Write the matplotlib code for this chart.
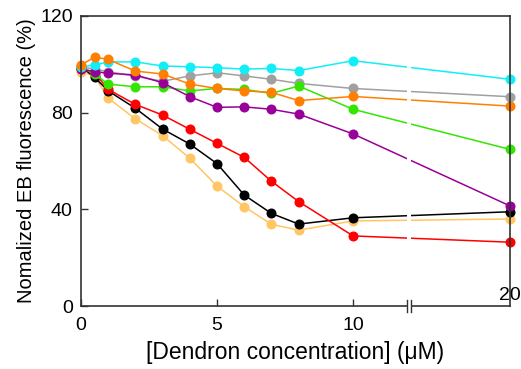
import numpy as np
import matplotlib
matplotlib.use("Agg")
import matplotlib.pyplot as plt
from matplotlib.patches import Rectangle

plt.rcParams['font.family'] = ['Liberation Sans', 'DejaVu Sans']

conc = [0, 0.5, 1, 2, 3, 4, 5, 6, 7, 8, 10, 20]

series = {
    "lightorange": [97, 95, 86, 77.4, 70.5, 61.1, 49.6, 41.1, 33.8, 31.4, 35.2, 36.0],
    "black":       [99, 94.6, 89, 81.8, 73.2, 67, 58.9, 45.9, 38.3, 33.9, 36.5, 39.0],
    "red":         [98, 96.5, 89.6, 83.4, 79, 73.1, 67.3, 61.5, 51.6, 43.2, 29.0, 26.4],
    "gray":        [99, 98, 97, 95, 93, 95.2, 96.5, 95.2, 93.8, 92.1, 90.0, 86.6],
    "green":       [99, 96, 91.8, 90.7, 90.7, 89, 90, 89.6, 88, 91, 81.4, 64.8],
    "purple":      [98, 97, 96.3, 95.6, 92.4, 86.6, 82.2, 82.4, 81.4, 79.4, 71.2, 41.4],
    "cyan":        [99, 99.7, 101, 101, 99.3, 99, 98.6, 98, 98.3, 97.4, 101.5, 93.8],
    "orange":      [99.7, 103, 102, 97.2, 96, 91.8, 90, 89, 88.4, 85, 86.7, 82.7],
}
colors = {
    "lightorange": "#FFC663",
    "black": "#000000",
    "red": "#FF0000",
    "gray": "#A0A0A0",
    "green": "#33E600",
    "purple": "#990099",
    "cyan": "#11EEF8",
    "orange": "#FF8000",
}

x_ticks = [0, 5, 10]
y_ticks = [0, 40, 80, 120]

# broken x axis: linear up to the break, compressed beyond
BREAK = 12.2
SQUEEZE = 0.4577


def fwd(x):
    x = np.asarray(x, dtype=float)
    return np.where(x <= BREAK, x, BREAK + (x - BREAK) * SQUEEZE)


def inv(u):
    u = np.asarray(u, dtype=float)
    return np.where(u <= BREAK, u, BREAK + (u - BREAK) / SQUEEZE)


fig = plt.figure(figsize=(5.21, 3.69), dpi=100)
ax = fig.add_axes([0.1555, 0.1707, 0.8235, 0.786])
ax.set_xscale('function', functions=(fwd, inv))

for name, vals in series.items():
    ax.plot(conc, vals, color=colors[name], lw=1.1, marker='o', ms=6.2,
            mec=colors[name], clip_on=False, zorder=3)

ax.set_xlim(0, 20)
ax.set_ylim(0, 120)
ax.set_xticks(x_ticks)
ax.set_xticklabels([str(t) for t in x_ticks])
ax.set_yticks(y_ticks)
ax.set_yticklabels([str(t) for t in y_ticks])
ax.tick_params(direction='in', length=5, width=1.0, labelsize=14,
               color='#333333')
ax.tick_params(axis='y', pad=6)
ax.tick_params(axis='x', pad=8)
ax.xaxis.set_minor_locator(plt.NullLocator())

for sp in ax.spines.values():
    sp.set_color('#333333')
    sp.set_linewidth(1.2)
    sp.set_zorder(5)

# gap in the data lines and bottom axis at the break
trans = ax.get_xaxis_transform()
ax.add_patch(Rectangle((11.98, -0.02), 0.14, 1.0, transform=trans,
                       facecolor='white', edgecolor='none', zorder=5.5,
                       clip_on=False))
for xb in (11.98, 12.12):
    ax.plot([xb, xb], [-0.02, 0.02], transform=trans, color='#333333',
            lw=1.0, clip_on=False, zorder=6)

ax.text(20, 0.8, "20", ha='center', va='bottom', fontsize=14, zorder=7)

ax.set_xlabel("[Dendron concentration] (\u03bcM)", fontsize=16.5, labelpad=5)
ax.set_ylabel("Nomalized EB fluorescence (%)", fontsize=14.5, labelpad=3)

fig.savefig("out.png", dpi=100)
